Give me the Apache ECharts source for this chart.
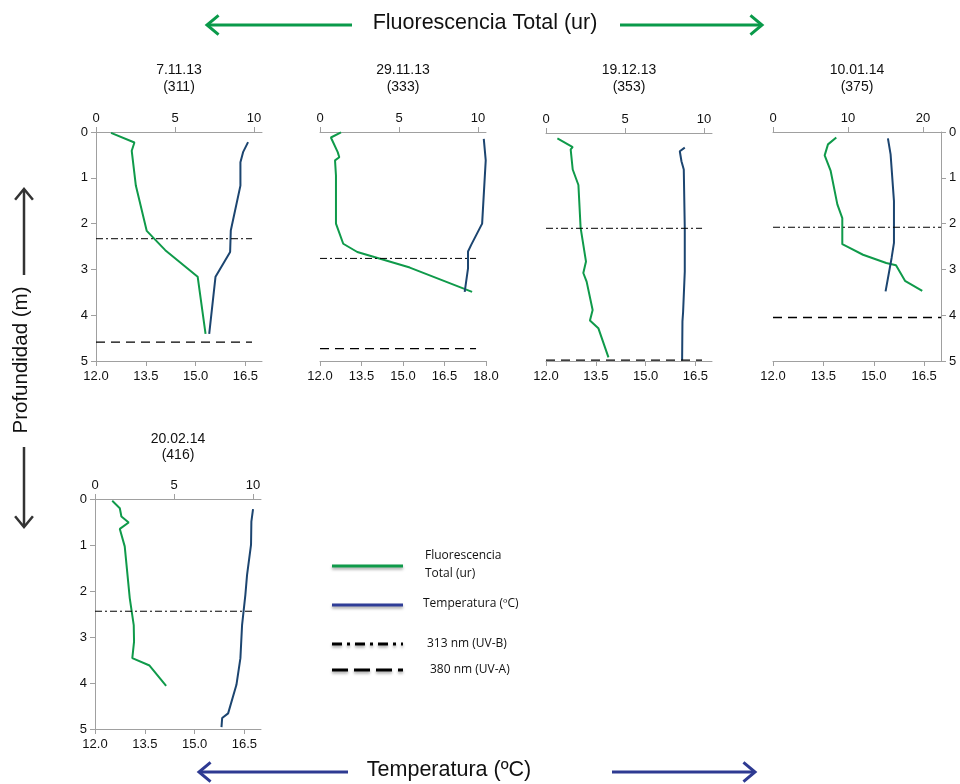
<!DOCTYPE html>
<html><head><meta charset="utf-8">
<script src="https://cdn.jsdelivr.net/npm/echarts@6/dist/echarts.min.js"></script>
<style>html,body{margin:0;padding:0;background:#fff}#c{width:960px;height:784px}</style>
</head><body><div id="c"></div><script>
// ---------- DATA ----------
const panelDates = ['7.11.13', '29.11.13', '19.12.13', '10.01.14', '20.02.14'];
const panelDays = ['(311)', '(333)', '(353)', '(375)', '(416)'];

// Fluorescencia total (ur) : [value, depth m]
const fluor1 = [[0.95,0.02],[2.43,0.23],[2.26,0.41],[2.52,1.17],[3.21,2.16],[3.74,2.35],[4.38,2.58],[6.43,3.16],[6.93,4.41]];
const fluor2 = [[1.33,0.01],[0.69,0.12],[1.12,0.44],[1.22,0.55],[0.95,0.62],[1.01,0.95],[1.01,2.0],[1.47,2.44],[2.36,2.62],[5.68,2.96],[9.62,3.49]];
const fluor3 = [[0.72,0.12],[1.69,0.31],[1.56,0.36],[1.69,0.80],[2.05,1.14],[2.19,2.08],[2.53,2.82],[2.36,3.07],[2.57,3.26],[2.95,3.88],[2.78,4.11],[3.31,4.28],[3.95,4.92]];
const fluor4 = [[8.44,0.12],[7.33,0.27],[6.89,0.51],[7.69,0.85],[8.58,1.58],[9.24,1.88],[9.24,2.45],[10.22,2.53],[12.0,2.68],[15.1,2.86],[16.4,2.91],[17.6,3.25],[19.9,3.47]];
const fluor5 = [[1.09,0.04],[1.57,0.20],[1.67,0.38],[2.13,0.51],[1.57,0.65],[1.88,1.03],[2.20,2.16],[2.45,2.74],[2.47,3.10],[2.36,3.46],[3.45,3.62],[4.50,4.06]];

// Temperatura (ºC) : [value, depth m]
const temp1 = [[16.58,0.22],[16.43,0.44],[16.35,0.66],[16.35,1.17],[16.06,2.15],[16.04,2.62],[15.60,3.16],[15.41,4.41]];
const temp2 = [[17.92,0.15],[17.99,0.62],[17.86,2.0],[17.46,2.47],[17.35,2.61],[17.35,2.98],[17.23,3.49]];
const temp3 = [[16.18,0.32],[16.03,0.40],[16.08,0.62],[16.15,0.80],[16.18,2.08],[16.18,3.04],[16.13,3.92],[16.11,4.13],[16.10,4.99]];
const temp4 = [[15.42,0.14],[15.50,0.49],[15.60,1.51],[15.60,2.42],[15.53,2.75],[15.35,3.48]];
const temp5 = [[16.76,0.22],[16.71,0.49],[16.70,0.99],[16.58,1.65],[16.53,2.08],[16.43,2.74],[16.38,3.46],[16.26,4.04],[16.01,4.66],[15.83,4.76],[15.81,4.96]];

// Penetration depths (m)
const uvbDepth = [2.33, 2.76, 2.09, 2.08, 2.44];   // 313 nm (UV-B)
const uvaDepth = [4.59, 4.73, 4.98, 4.05, null];   // 380 nm (UV-A)

// Tick labels
const depthTicks = [0, 1, 2, 3, 4, 5];
const fluorTicksA = [0, 5, 10];
const fluorTicksB = [0, 10, 20];
const tempTicksA = [12, 13.5, 15, 16.5];
const tempTicksB = [12, 13.5, 15, 16.5, 18];

// ---------- LAYOUT ----------
const fluorData = [fluor1, fluor2, fluor3, fluor4, fluor5];
const tempData = [temp1, temp2, temp3, temp4, temp5];
const panels = [
  {left:96,  top:132, width:166, height:229, fMax:10.5, fTicks:fluorTicksA, tMax:17, tTicks:tempTicksA, yPos:'left',  yShow:true,  refEnd:16.7,  tY:70,  dY:87},
  {left:320, top:132, width:166, height:229, fMax:10.5, fTicks:fluorTicksA, tMax:18, tTicks:tempTicksB, yPos:'left',  yShow:false, refEnd:17.64, tY:70,  dY:87},
  {left:546, top:133, width:166, height:228, fMax:10.5, fTicks:fluorTicksA, tMax:17, tTicks:tempTicksA, yPos:'left',  yShow:false, refEnd:16.7,  tY:70,  dY:87},
  {left:773, top:132, width:168, height:229, fMax:22.4, fTicks:fluorTicksB, tMax:17, tTicks:tempTicksA, yPos:'right', yShow:true,  refEnd:17,    tY:70,  dY:87},
  {left:95,  top:499, width:166, height:230, fMax:10.5, fTicks:fluorTicksA, tMax:17, tTicks:tempTicksA, yPos:'left',  yShow:true,  refEnd:16.73, tY:439, dY:455}
];

const GREEN = '#0f9a4a', BLUE = '#1c4570', AXIS = '#a0a0a0';
const FONT = '"Liberation Sans", Arial, sans-serif';
const LFONT = '"Open Sans", "Noto Sans", sans-serif';

const grid = [], xAxis = [], yAxis = [], series = [], graphic = [];
panels.forEach((p, i) => {
  grid.push({left:p.left, top:p.top, width:p.width, height:p.height, containLabel:false});
  const axisBase = {
    axisLine:{show:true, onZero:false, lineStyle:{color:AXIS, width:1}},
    axisTick:{show:true, length:5, lineStyle:{color:AXIS}},
    splitLine:{show:false},
    axisLabel:{color:'#111', fontSize:13, fontFamily:FONT, margin:6}
  };
  // top: fluorescence
  xAxis.push(Object.assign({}, axisBase, {
    type:'value', gridIndex:i, position:'top', min:0, max:p.fMax,
    axisTick:Object.assign({}, axisBase.axisTick, {customValues:p.fTicks}),
    axisLabel:Object.assign({}, axisBase.axisLabel, {customValues:p.fTicks, margin:7})
  }));
  // bottom: temperature
  xAxis.push(Object.assign({}, axisBase, {
    type:'value', gridIndex:i, position:'bottom', min:12, max:p.tMax,
    axisTick:Object.assign({}, axisBase.axisTick, {customValues:p.tTicks}),
    axisLabel:Object.assign({}, axisBase.axisLabel, {customValues:p.tTicks, margin:9, formatter:v => v.toFixed(1)})
  }));
  yAxis.push(Object.assign({}, axisBase, {
    type:'value', gridIndex:i, position:p.yPos, inverse:true, min:0, max:5, interval:1,
    show:p.yShow,
    axisTick:Object.assign({}, axisBase.axisTick, {customValues:depthTicks}),
    axisLabel:Object.assign({}, axisBase.axisLabel, {customValues:depthTicks, margin:8})
  }));
  series.push({
    type:'line', name:'Fluorescencia Total (ur)', xAxisIndex:2*i, yAxisIndex:i,
    data:fluorData[i], showSymbol:false, symbol:'none', lineStyle:{color:GREEN, width:2}, z:3, animation:false
  });
  series.push({
    type:'line', name:'Temperatura (ºC)', xAxisIndex:2*i+1, yAxisIndex:i,
    data:tempData[i], showSymbol:false, symbol:'none', lineStyle:{color:BLUE, width:2}, z:3, animation:false
  });
  series.push({
    type:'line', name:'313 nm (UV-B)', xAxisIndex:2*i+1, yAxisIndex:i,
    data:[[12, uvbDepth[i]], [p.refEnd, uvbDepth[i]]], symbol:'none',
    lineStyle:{color:'#000', width:1, type:[7,3,2,3]}, z:4, animation:false
  });
  if (uvaDepth[i] != null) {
    series.push({
      type:'line', name:'380 nm (UV-A)', xAxisIndex:2*i+1, yAxisIndex:i,
      data:[[12, uvaDepth[i]], [p.refEnd, uvaDepth[i]]], symbol:'none',
      lineStyle:{color:'#000', width:1.3, type:[9,6]}, z:4, animation:false
    });
  }
  const cx = p.left + p.width / 2;
  graphic.push({type:'text', position:[cx, p.tY], style:{text:panelDates[i], fill:'#111', font:'14px ' + FONT, textAlign:'center', textVerticalAlign:'middle'}});
  graphic.push({type:'text', position:[cx, p.dY], style:{text:panelDays[i], fill:'#111', font:'14px ' + FONT, textAlign:'center', textVerticalAlign:'middle'}});
});

// Arrow helper
function arrow(x1, y1, x2, y2, color, w, head) {
  const ang = Math.atan2(y2 - y1, x2 - x1);
  const a1 = ang + Math.PI * 0.78, a2 = ang - Math.PI * 0.78;
  return [
    {type:'line', shape:{x1, y1, x2, y2}, style:{stroke:color, lineWidth:w}},
    {type:'polyline', shape:{points:[[x2 + head*Math.cos(a1), y2 + head*Math.sin(a1)], [x2, y2], [x2 + head*Math.cos(a2), y2 + head*Math.sin(a2)]]},
     style:{stroke:color, lineWidth:w, fill:null, lineJoin:'miter'}}
  ];
}
const AGREEN = '#0a9a4a', ABLUE = '#2e3a92', AGRAY = '#333';
graphic.push(...arrow(352, 25, 207, 25, AGREEN, 3, 15));
graphic.push(...arrow(620, 25, 762, 25, AGREEN, 3, 15));
graphic.push({type:'text', position:[485, 23], style:{text:'Fluorescencia Total (ur)', fill:'#111', font:'21.5px ' + FONT, textAlign:'center', textVerticalAlign:'middle'}});
graphic.push(...arrow(348, 772, 199, 772, ABLUE, 3, 15));
graphic.push(...arrow(612, 772, 755, 772, ABLUE, 3, 15));
graphic.push({type:'text', position:[449, 770], style:{text:'Temperatura (ºC)', fill:'#111', font:'21.5px ' + FONT, textAlign:'center', textVerticalAlign:'middle'}});
graphic.push(...arrow(24, 275, 24, 189, AGRAY, 2.5, 14));
graphic.push(...arrow(24, 447, 24, 527, AGRAY, 2.5, 14));
graphic.push({type:'text', position:[21, 360], rotation:Math.PI/2, style:{text:'Profundidad (m)', fill:'#111', font:'20.5px ' + FONT, textAlign:'center', textVerticalAlign:'middle'}});

// Legend
const sh = {shadowBlur:3, shadowColor:'rgba(0,0,0,0.35)', shadowOffsetY:2};
graphic.push({type:'line', shape:{x1:332, y1:566, x2:403, y2:566}, style:Object.assign({stroke:GREEN, lineWidth:3}, sh)});
graphic.push({type:'text', position:[425, 556], style:{text:'Fluorescencia', fill:'#111', font:'12px ' + LFONT, textVerticalAlign:'middle'}});
graphic.push({type:'text', position:[425, 574], style:{text:'Total (ur)', fill:'#111', font:'12px ' + LFONT, textVerticalAlign:'middle'}});
graphic.push({type:'line', shape:{x1:332, y1:605, x2:403, y2:605}, style:Object.assign({stroke:'#2f3d97', lineWidth:3}, sh)});
graphic.push({type:'text', position:[423, 604], style:{text:'Temperatura (ºC)', fill:'#111', font:'12px ' + LFONT, textVerticalAlign:'middle'}});
graphic.push({type:'line', shape:{x1:332, y1:644, x2:403, y2:644}, style:Object.assign({stroke:'#000', lineWidth:3, lineDash:[10,5,3,5]}, sh)});
graphic.push({type:'text', position:[427, 644], style:{text:'313 nm (UV-B)', fill:'#111', font:'12px ' + LFONT, textVerticalAlign:'middle'}});
graphic.push({type:'line', shape:{x1:332, y1:670, x2:403, y2:670}, style:Object.assign({stroke:'#000', lineWidth:3, lineDash:[16,6]}, sh)});
graphic.push({type:'text', position:[430, 670], style:{text:'380 nm (UV-A)', fill:'#111', font:'12px ' + LFONT, textVerticalAlign:'middle'}});

const chart = echarts.init(document.getElementById('c'), null, {renderer:'canvas'});
chart.setOption({
  backgroundColor:'#fff',
  animation:false,
  grid, xAxis, yAxis, series,
  graphic:{elements:graphic}
});
</script></body></html>
